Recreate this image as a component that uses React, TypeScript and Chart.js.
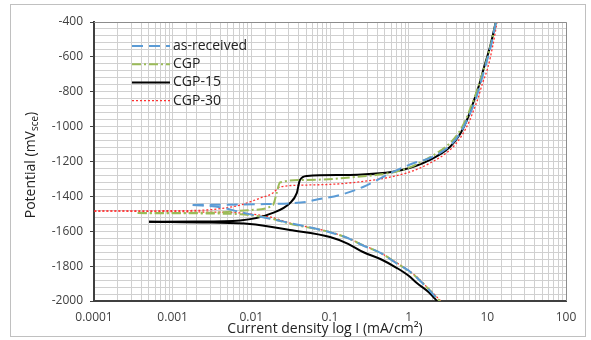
import React, { useEffect, useRef } from "react";
import { Chart, registerables } from "chart.js";

Chart.register(...registerables);

// ---- Data: current density (mA/cm²) and potential (mV_sce), each branch ordered by current ----
// as-received
const asRecCathI = [0.0018, 0.004, 0.0072, 0.015, 0.031, 0.097, 0.17, 0.255, 0.45, 0.69, 1.0, 1.24, 1.82, 2.5];
const asRecCathE = [-1450, -1462, -1490, -1522, -1553, -1604, -1640, -1679, -1727, -1782, -1825, -1862, -1937, -2006];
const asRecAnodI = [0.0018, 0.004, 0.012, 0.031, 0.05, 0.064, 0.134, 0.263, 0.71, 1.27, 1.87, 3.34, 4.4, 5.5, 6.3, 7.1, 8.2, 9.5, 11.2, 12.9];
const asRecAnodE = [-1449, -1448, -1445, -1440, -1432, -1421, -1392, -1346, -1249, -1203, -1180, -1110, -1045, -965, -905, -845, -750, -650, -530, -400];

// CGP
const cgpCathI = [0.00036, 0.0027, 0.0072, 0.0172, 0.031, 0.098, 0.17, 0.258, 0.45, 0.7, 1.0, 1.25, 1.84, 2.55];
const cgpCathE = [-1496, -1498, -1503, -1525, -1557, -1604, -1640, -1679, -1727, -1782, -1828, -1862, -1937, -2006];
const cgpAnodI = [0.00036, 0.003, 0.01, 0.0188, 0.021, 0.0231, 0.05, 0.178, 0.82, 1.87, 3.34, 4.4, 5.5, 6.2, 7.0, 8.1, 9.5, 11.2, 12.9];
const cgpAnodE = [-1495, -1494, -1478, -1450, -1380, -1320, -1306, -1292, -1249, -1175, -1095, -1030, -945, -885, -825, -735, -640, -520, -400];

// CGP-15
const cgp15CathI = [0.0005, 0.003, 0.0096, 0.031, 0.1, 0.17, 0.263, 0.45, 0.71, 1.0, 1.27, 1.8, 2.35];
const cgp15CathE = [-1545, -1550, -1558, -1593, -1633, -1672, -1719, -1762, -1811, -1855, -1897, -1950, -2006];
const cgp15AnodI = [0.0005, 0.002, 0.0072, 0.0188, 0.031, 0.0378, 0.0415, 0.051, 0.178, 0.82, 1.87, 3.34, 4.4, 5.5, 6.2, 6.8, 8.0, 9.1, 11.0, 12.8];
const cgp15AnodE = [-1545, -1544, -1538, -1495, -1438, -1381, -1306, -1283, -1277, -1249, -1191, -1117, -1050, -962, -900, -847, -750, -658, -530, -400];

// CGP-30
const cgp30CathI = [0.00008, 0.001, 0.0027, 0.0072, 0.0172, 0.031, 0.1, 0.17, 0.263, 0.45, 0.71, 1.0, 1.27, 1.86, 2.64];
const cgp30CathE = [-1484, -1487, -1490, -1495, -1518, -1553, -1604, -1640, -1679, -1727, -1782, -1825, -1862, -1937, -2006];
const cgp30AnodI = [0.00008, 0.001, 0.0027, 0.0072, 0.0129, 0.0188, 0.0231, 0.0508, 0.178, 0.94, 1.87, 3.34, 4.6, 6.0, 6.7, 7.5, 8.7, 10.2, 11.8, 13.3];
const cgp30AnodE = [-1484, -1482, -1478, -1450, -1410, -1381, -1346, -1335, -1323, -1266, -1209, -1134, -1060, -962, -905, -847, -750, -658, -530, -400];

const seriesNames = ["as-received", "CGP", "CGP-15", "CGP-30"];
const xDecades = [0.0001, 0.001, 0.01, 0.1, 1, 10, 100];
const xTickLabels = ["0.0001", "0.001", "0.01", "0.1", "1", "10", "100"];
const yMajorStep = 200;
const yMinorStep = 40;
const yMin = -2000;
const yMax = -400;

const FONT = "'Open Sans', 'Liberation Sans', sans-serif";

const styles = [
  { color: "#5b9bd5", dash: [11, 6], width: 2 },
  { color: "#9bbb59", dash: [9, 3, 2, 3], width: 2 },
  { color: "#000000", dash: [] as number[], width: 2 },
  { color: "#ff3030", dash: [2, 2], width: 1.3 },
];

function pts(I: number[], E: number[]) {
  return I.map((x, i) => ({ x, y: E[i] }));
}

const framePlugin = {
  id: "framePlugin",
  beforeDraw(chart: any) {
    const ctx = chart.ctx;
    ctx.save();
    ctx.fillStyle = "#ffffff";
    ctx.fillRect(0, 0, chart.width, chart.height);
    ctx.strokeStyle = "#c0c0c0";
    ctx.lineWidth = 1;
    ctx.strokeRect(10.5, 4.5, 575, 332);
    ctx.restore();
  },
  afterDraw(chart: any) {
    const ctx = chart.ctx;
    const a = chart.chartArea;
    ctx.save();
    // top and right plot border
    ctx.strokeStyle = "#8c8c8c";
    ctx.lineWidth = 1;
    ctx.beginPath();
    ctx.moveTo(a.left, a.top + 0.5);
    ctx.lineTo(a.right + 0.5, a.top + 0.5);
    ctx.lineTo(a.right + 0.5, a.bottom);
    ctx.stroke();

    // legend (one entry per series)
    const lx = a.left + 38;
    const ly = a.top + 24;
    seriesNames.forEach((name, i) => {
      const st = styles[i];
      const y = ly + i * 18.2;
      ctx.strokeStyle = st.color;
      ctx.lineWidth = st.width;
      ctx.setLineDash(st.dash);
      ctx.beginPath();
      ctx.moveTo(lx, y);
      ctx.lineTo(lx + 38, y);
      ctx.stroke();
      ctx.setLineDash([]);
      ctx.fillStyle = "#222222";
      ctx.font = `14px ${FONT}`;
      ctx.textBaseline = "middle";
      ctx.textAlign = "left";
      ctx.fillText(name, lx + 41, y);
    });

    // y title with subscript
    ctx.fillStyle = "#222222";
    ctx.translate(30, 165);
    ctx.rotate(-Math.PI / 2);
    ctx.font = `14px ${FONT}`;
    const t1 = "Potential (mV";
    const w1 = ctx.measureText(t1).width;
    ctx.font = `10px ${FONT}`;
    const ws = ctx.measureText("sce").width;
    ctx.font = `14px ${FONT}`;
    const w3 = ctx.measureText(")").width;
    const total = w1 + ws + w3;
    const x0 = -total / 2;
    ctx.textAlign = "left";
    ctx.textBaseline = "alphabetic";
    ctx.fillText(t1, x0, 5);
    ctx.font = `10px ${FONT}`;
    ctx.fillText("sce", x0 + w1, 8);
    ctx.font = `14px ${FONT}`;
    ctx.fillText(")", x0 + w1 + ws, 5);
    ctx.restore();

    // x title
    ctx.save();
    ctx.fillStyle = "#222222";
    ctx.font = `14px ${FONT}`;
    ctx.textAlign = "center";
    ctx.textBaseline = "alphabetic";
    ctx.fillText("Current density log I (mA/cm²)", 325, 333);
    ctx.restore();
  },
};

function isDecade(v: number) {
  const l = Math.log10(v);
  return Math.abs(l - Math.round(l)) < 1e-6;
}

export default function App() {
  const ref = useRef<HTMLCanvasElement | null>(null);
  useEffect(() => {
    document.body.style.margin = "0";
    const canvas = ref.current!;
    const branches = [
      { s: 0, d: pts(asRecCathI, asRecCathE) },
      { s: 0, d: pts(asRecAnodI, asRecAnodE) },
      { s: 1, d: pts(cgpCathI, cgpCathE) },
      { s: 1, d: pts(cgpAnodI, cgpAnodE) },
      { s: 2, d: pts(cgp15CathI, cgp15CathE) },
      { s: 2, d: pts(cgp15AnodI, cgp15AnodE) },
      { s: 3, d: pts(cgp30CathI, cgp30CathE) },
      { s: 3, d: pts(cgp30AnodI, cgp30AnodE) },
    ];
    const chart = new Chart(canvas, {
      type: "scatter",
      data: {
        datasets: branches.map((b) => ({
          label: seriesNames[b.s],
          data: b.d,
          showLine: true,
          pointRadius: 0,
          borderColor: styles[b.s].color,
          backgroundColor: styles[b.s].color,
          borderWidth: styles[b.s].width,
          borderDash: styles[b.s].dash,
          cubicInterpolationMode: "monotone",
          fill: false,
        })),
      },
      options: {
        responsive: false,
        animation: false,
        layout: { padding: { left: 0, right: 25, top: 22, bottom: 0 } },
        plugins: { legend: { display: false }, tooltip: { enabled: false } },
        scales: {
          x: {
            type: "logarithmic",
            min: xDecades[0],
            max: xDecades[xDecades.length - 1],
            afterFit: (s: any) => {
              s.height = 39;
            },
            grid: { color: "#d0d0d0", lineWidth: 1, drawTicks: false },
            border: { color: "#404040", width: 2 },
            ticks: {
              autoSkip: false,
              maxRotation: 0,
              padding: 9,
              color: "#404040",
              font: { family: FONT, size: 12 },
              callback: (v: any) => {
                const n = Number(v);
                if (!isDecade(n)) return "";
                const idx = xDecades.findIndex((d) => Math.abs(Math.log10(d) - Math.log10(n)) < 1e-6);
                return idx >= 0 ? xTickLabels[idx] : "";
              },
            },
          },
          y: {
            type: "linear",
            min: yMin,
            max: yMax,
            afterFit: (s: any) => {
              s.width = 94;
            },
            grid: {
              color: "#d0d0d0",
              lineWidth: 1,
              tickLength: 4,
              tickColor: (c: any) =>
                c.tick && Math.round(c.tick.value) % yMajorStep === 0 ? "#404040" : "rgba(0,0,0,0)",
            },
            border: { color: "#404040", width: 2 },
            ticks: {
              autoSkip: false,
              stepSize: yMinorStep,
              padding: 7,
              color: "#404040",
              font: { family: FONT, size: 12 },
              callback: (v: any) => (Math.round(Number(v)) % yMajorStep === 0 ? String(v) : ""),
            },
          },
        },
      },
      plugins: [framePlugin],
    });
    return () => chart.destroy();
  }, []);
  return <canvas ref={ref} width={591} height={340} style={{ display: "block" }} />;
}
